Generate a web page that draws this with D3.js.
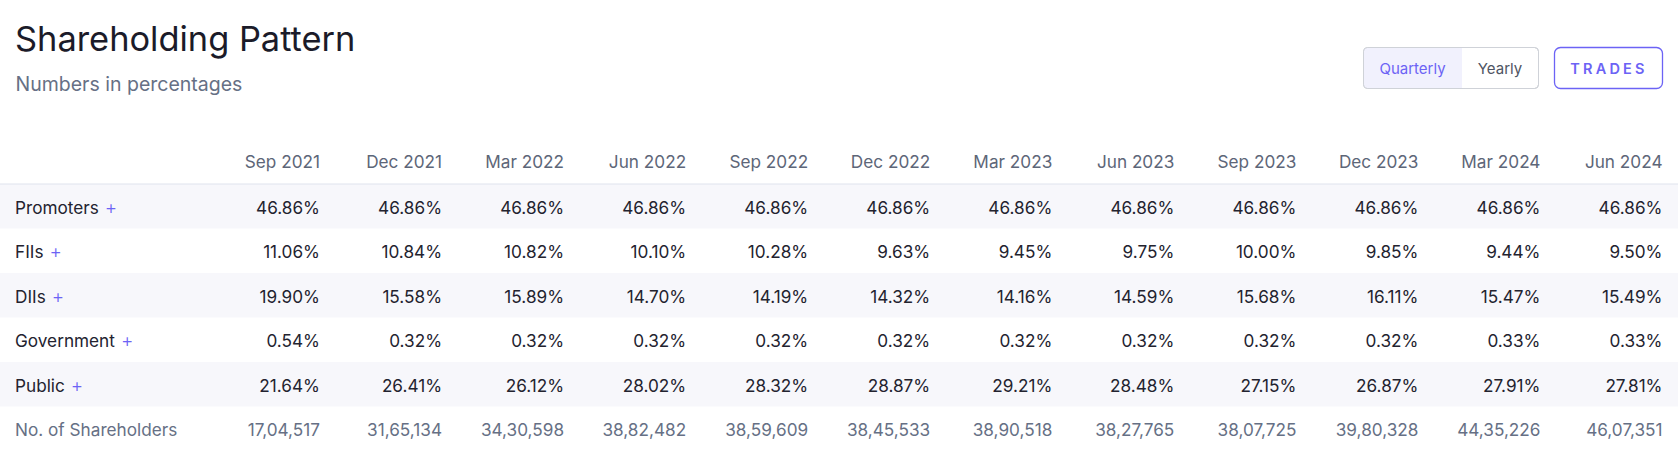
<!DOCTYPE html>
<html>
<head>
<meta charset="utf-8">
<script src="https://cdn.jsdelivr.net/npm/d3@7"></script>
<style>
  html, body { margin: 0; padding: 0; background: #fff; }
  svg { display: block; font-family: Inter, "Noto Sans", sans-serif; }
</style>
</head>
<body>
<svg id="chart" width="1678" height="460"></svg>
<script>
const periods = ["Sep 2021","Dec 2021","Mar 2022","Jun 2022","Sep 2022","Dec 2022","Mar 2023","Jun 2023","Sep 2023","Dec 2023","Mar 2024","Jun 2024"];
const categories = ["Promoters","FIIs","DIIs","Government","Public"];
const promoters  = [46.86,46.86,46.86,46.86,46.86,46.86,46.86,46.86,46.86,46.86,46.86,46.86];
const fiis       = [11.06,10.84,10.82,10.10,10.28,9.63,9.45,9.75,10.00,9.85,9.44,9.50];
const diis       = [19.90,15.58,15.89,14.70,14.19,14.32,14.16,14.59,15.68,16.11,15.47,15.49];
const government = [0.54,0.32,0.32,0.32,0.32,0.32,0.32,0.32,0.32,0.32,0.33,0.33];
const publicVals = [21.64,26.41,26.12,28.02,28.32,28.87,29.21,28.48,27.15,26.87,27.91,27.81];
const shareholders = [1704517,3165134,3430598,3882482,3859609,3845533,3890518,3827765,3807725,3980328,4435226,4607351];

const seriesByCat = [promoters, fiis, diis, government, publicVals];
const rowLabels = categories.concat(["No. of Shareholders"]);

// Indian-style digit grouping
function indianFormat(n) {
  const s = String(n);
  if (s.length <= 3) return s;
  const last3 = s.slice(-3);
  let rest = s.slice(0, -3);
  const parts = [];
  while (rest.length > 2) { parts.unshift(rest.slice(-2)); rest = rest.slice(0, -2); }
  if (rest.length) parts.unshift(rest);
  return parts.join(",") + "," + last3;
}
const pct = d3.format(".2f");
const FS = 17.2;

const svg = d3.select("#chart");

// Title & subtitle
svg.append("text").attr("x", 15).attr("y", 51)
  .attr("font-size", 34.4).attr("fill", "#1b1b29").text("Shareholding Pattern");
svg.append("text").attr("x", 15.5).attr("y", 90.5)
  .attr("font-size", 19.5).attr("fill", "#667085").text("Numbers in percentages");

// Buttons
const btn = svg.append("g");
btn.append("rect").attr("x", 1363.5).attr("y", 47.5).attr("width", 175).attr("height", 41)
  .attr("rx", 4).attr("fill", "#fff").attr("stroke", "#cfd2d8");
btn.append("path").attr("d", "M1366,48 H1462 V88 H1366 Q1364,88 1364,85 V51 Q1364,48 1366,48 Z")
  .attr("fill", "#f1f1fd");
btn.append("rect").attr("x", 1363.5).attr("y", 47.5).attr("width", 175).attr("height", 41)
  .attr("rx", 4).attr("fill", "none").attr("stroke", "#cfd2d8");
btn.append("text").attr("x", 1412.5).attr("y", 73.5).attr("text-anchor", "middle")
  .attr("font-size", 15).attr("fill", "#6c63f5").text("Quarterly");
btn.append("text").attr("x", 1500).attr("y", 73.5).attr("text-anchor", "middle")
  .attr("font-size", 15).attr("fill", "#4f5563").text("Yearly");
btn.append("rect").attr("x", 1554.5).attr("y", 47.5).attr("width", 108).attr("height", 41)
  .attr("rx", 6).attr("fill", "#fff").attr("stroke", "#6c63f5").attr("stroke-width", 1.3);
btn.append("text").attr("x", 1609).attr("y", 73.5).attr("text-anchor", "middle")
  .attr("font-size", 14.5).attr("font-weight", 600).attr("letter-spacing", 3.2)
  .attr("fill", "#6c63f5").text("TRADES");

// Scales
const x = d3.scalePoint().domain(periods).range([320, 1662.5]);
const y = d3.scaleBand().domain(rowLabels).range([184, 451]);

// Row bands (alternate)
svg.append("g").selectAll("rect")
  .data(rowLabels.filter((d, i) => i % 2 === 0))
  .join("rect")
  .attr("x", 0).attr("width", 1678)
  .attr("y", d => y(d)).attr("height", y.bandwidth())
  .attr("fill", "#f7f7fb");

// Header line
svg.append("line").attr("x1", 0).attr("x2", 1678).attr("y1", 184).attr("y2", 184)
  .attr("stroke", "#dfe4ee").attr("stroke-width", 1.2);

// Column headers
svg.append("g").selectAll("text").data(periods).join("text")
  .attr("x", d => x(d)).attr("y", 167.5).attr("text-anchor", "end")
  .attr("font-size", FS).attr("fill", "#5d6678").text(d => d);

// Row labels
const labels = svg.append("g").selectAll("text").data(rowLabels).join("text")
  .attr("x", 15).attr("y", d => y(d) + y.bandwidth() / 2 + 7.6)
  .attr("font-size", FS)
  .attr("fill", d => d === "No. of Shareholders" ? "#667085" : "#23232f");
labels.append("tspan").text(d => d);
labels.filter(d => d !== "No. of Shareholders").append("tspan")
  .attr("fill", "#6c63f5").attr("dx", 6).attr("font-size", 19).attr("font-weight", 300).text("+");

// Values
categories.forEach((cat, ci) => {
  svg.append("g").selectAll("text").data(seriesByCat[ci]).join("text")
    .attr("x", (d, i) => x(periods[i]))
    .attr("y", y(cat) + y.bandwidth() / 2 + 7.6)
    .attr("text-anchor", "end").attr("font-size", FS).attr("fill", "#23232f")
    .text(d => pct(d) + "%");
});
svg.append("g").selectAll("text").data(shareholders).join("text")
  .attr("x", (d, i) => x(periods[i]))
  .attr("y", y("No. of Shareholders") + y.bandwidth() / 2 + 7.6)
  .attr("text-anchor", "end").attr("font-size", FS).attr("fill", "#667085")
  .text(d => indianFormat(d));
</script>
</body>
</html>
